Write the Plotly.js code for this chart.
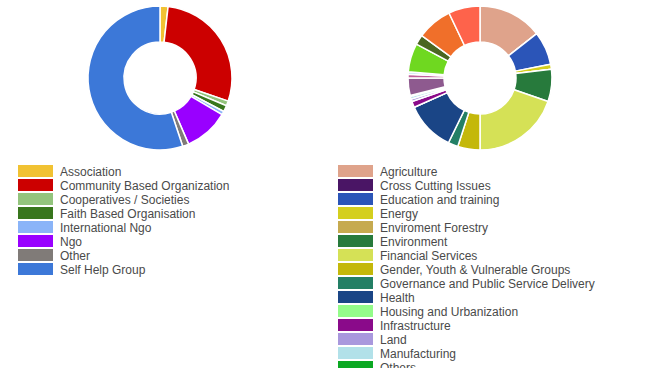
<!DOCTYPE html>
<html>
<head>
<meta charset="utf-8">
<script src="https://cdn.plot.ly/plotly-3.0.1.min.js"></script>
<style>html,body{margin:0;padding:0;background:#fff;}#chart{width:653px;height:368px;}</style>
</head>
<body>
<div id="chart"></div>
<script>
// Left donut: organisation types
const orgLabels = ["Association", "Community Based Organization", "Cooperatives / Societies",
  "Faith Based Organisation", "International Ngo", "Ngo", "Other", "Self Help Group"];
const orgValues = [18, 284, 11, 14, 8, 100, 14, 551];
const orgColors = ["#f1c232", "#cc0000", "#93c47d", "#38761d", "#8ab4f8", "#9900ff", "#807b78", "#3c78d8"];

// Right donut: sectors
const sectorLabels = ["Agriculture", "Cross Cutting Issues", "Education and training", "Energy",
  "Enviroment Forestry", "Environment", "Financial Services", "Gender, Youth & Vulnerable Groups",
  "Governance and Public Service Delivery", "Health", "Housing and Urbanization", "Infrastructure",
  "Land", "Manufacturing", "Others", "Peace and Security", "Research", "Social Protection",
  "Sports", "Tourism", "Trade", "Water and Sanitation"];
const sectorValues = [104, 0, 54, 8, 0, 52, 142, 36, 16, 80, 0, 10, 4, 4, 2, 28, 6, 4, 46, 16, 57, 51];
const sectorColors = ["#dfa38b", "#4a1565", "#2b55b8", "#d4cf1e", "#c6aa4f", "#277a3c", "#d5e156",
  "#c4b80a", "#237f65", "#1a4586", "#94fc8a", "#8a0a8a", "#a998dd", "#b2e1e9", "#0ba822",
  "#8e5a8f", "#c0609b", "#c8e9f0", "#6fd820", "#4b6722", "#f06f2a", "#fe634b"];

const W = 653, H = 368;
const px = x => x / W;
const py = y => 1 - y / H;

const common = {
  type: "pie", hole: 0.5, sort: false, direction: "clockwise", rotation: 0,
  textinfo: "none", hoverinfo: "label+value+percent", showlegend: false
};

const data = [
  Object.assign({}, common, {
    labels: orgLabels, values: orgValues,
    marker: {colors: orgColors, line: {color: "#ffffff", width: 1.5}},
    domain: {x: [px(88), px(232)], y: [py(150), py(6)]}
  }),
  Object.assign({}, common, {
    labels: sectorLabels, values: sectorValues,
    marker: {colors: sectorColors, line: {color: "#ffffff", width: 1.5}},
    domain: {x: [px(408), px(552)], y: [py(150), py(6)]}
  })
];

// Custom legends (swatch + label) built from the category arrays;
// rows that fall entirely below the page (as in the reference) are not drawn.
const shapes = [], annotations = [];
function addLegend(labels, colors, x0) {
  labels.forEach((lab, i) => {
    const cy = 171 + 14 * i;
    if (cy - 7 > H) return;
    shapes.push({type: "rect", xref: "paper", yref: "paper",
      x0: px(x0), x1: px(x0 + 35), y0: py(cy + 6), y1: py(cy - 6),
      fillcolor: colors[i], line: {width: 0}});
    annotations.push({xref: "paper", yref: "paper", x: px(x0 + 40), y: py(cy + 1),
      xanchor: "left", yanchor: "middle", showarrow: false, text: lab,
      font: {family: "Liberation Sans, Arial, sans-serif", size: 12, color: "#4a4a4a"}});
  });
}
addLegend(orgLabels, orgColors, 18);
addLegend(sectorLabels, sectorColors, 338);

const layout = {
  width: W, height: H,
  margin: {l: 0, r: 0, t: 0, b: 0},
  paper_bgcolor: "#ffffff", plot_bgcolor: "#ffffff",
  showlegend: false,
  shapes: shapes, annotations: annotations
};

Plotly.newPlot("chart", data, layout, {displayModeBar: false, staticPlot: true});
</script>
</body>
</html>
